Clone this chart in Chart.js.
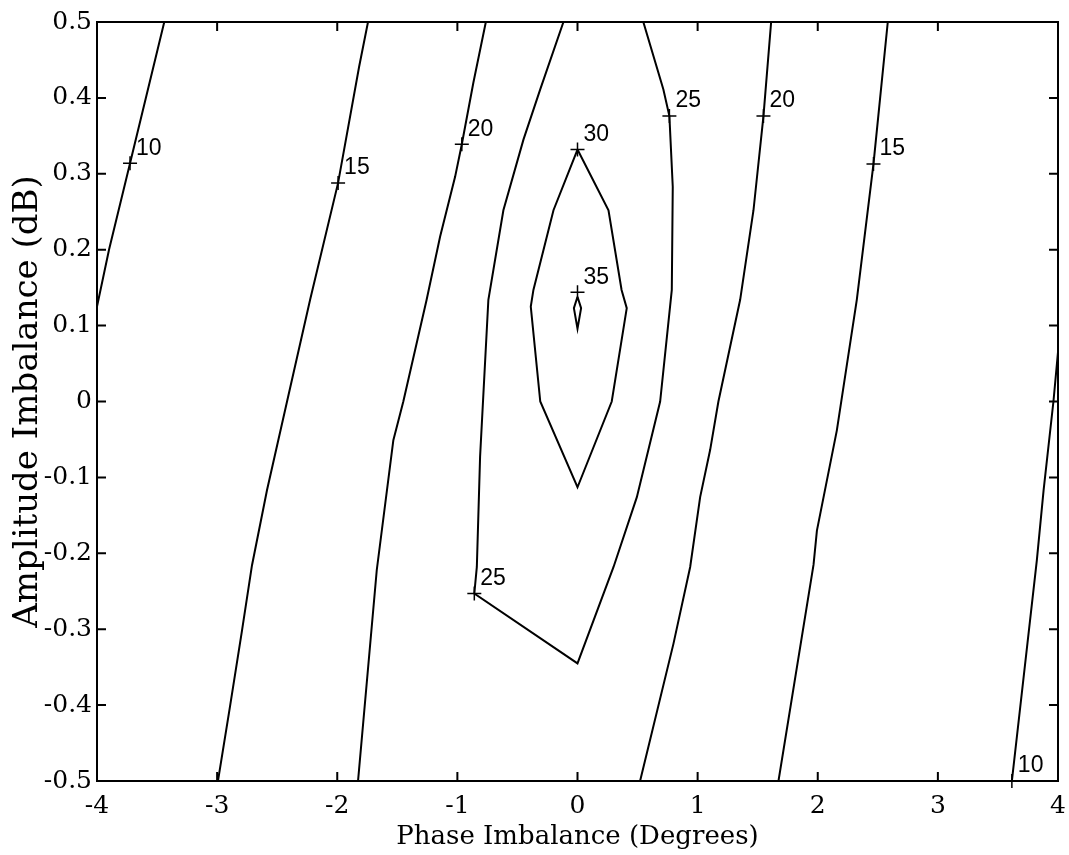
<!DOCTYPE html>
<html>
<head>
<meta charset="utf-8">
<script src="https://cdn.jsdelivr.net/npm/chart.js@4.4.0/dist/chart.umd.min.js"></script>
<style>
  html, body { margin: 0; padding: 0; background: #ffffff; }
  #wrap { width: 1069px; height: 855px; }
</style>
</head>
<body>
<div id="wrap"><canvas id="myChart" width="1069" height="855"></canvas></div>
<script>
// contour lines as [phase, amplitude] pairs
const c10left = [[-4.0, 0.125], [-3.90, 0.20], [-3.725, 0.314], [-3.44, 0.5]];
const c15left = [[-1.744, 0.5], [-1.818, 0.441], [-1.993, 0.288], [-2.226, 0.134], [-2.418, 0.0],
                 [-2.585, -0.117], [-2.71, -0.216], [-2.793, -0.302], [-2.893, -0.402], [-2.993, -0.5]];
const c20left = [[-0.763, 0.5], [-0.867, 0.42], [-0.963, 0.339], [-1.019, 0.296], [-1.144, 0.217],
                 [-1.256, 0.134], [-1.45, 0.0], [-1.533, -0.051], [-1.671, -0.222], [-1.827, -0.5]];
const c25 = [[-0.117, 0.5], [-0.311, 0.411], [-0.45, 0.345], [-0.617, 0.252], [-0.742, 0.134],
             [-0.811, -0.073], [-0.838, -0.218], [-0.859, -0.253], [0.0, -0.345], [0.30, -0.218],
             [0.494, -0.126], [0.688, 0.0], [0.785, 0.147], [0.793, 0.283], [0.765, 0.376],
             [0.715, 0.411], [0.548, 0.5]];
const c30 = [[0.0, 0.332], [0.258, 0.252], [0.367, 0.147], [0.41, 0.123], [0.285, 0.0], [0.0, -0.113],
             [-0.31, 0.0], [-0.389, 0.125], [-0.367, 0.147], [-0.2, 0.252], [0.0, 0.332]];
const c35 = [[0.0, 0.138], [0.03, 0.123], [0.0, 0.096], [-0.03, 0.123], [0.0, 0.138]];
const c20right = [[1.612, 0.5], [1.548, 0.376], [1.465, 0.252], [1.354, 0.134], [1.173, 0.0],
                  [1.104, -0.064], [1.021, -0.126], [0.938, -0.218], [0.799, -0.319], [0.521, -0.5]];
const c15right = [[2.583, 0.5], [2.464, 0.313], [2.325, 0.134], [2.159, -0.038], [1.993, -0.17],
                  [1.965, -0.215], [1.673, -0.5]];
const c10right = [[3.616, -0.5], [3.824, -0.209], [3.88, -0.117], [3.962, 0.0], [4.0, 0.065]];

// the "+" label marks
const markX = [-3.725, -1.993, -0.963, 0.0, 0.0, 0.765, 1.548, 2.464, -0.859, 3.616];
const markY = [0.314, 0.288, 0.339, 0.332, 0.144, 0.376, 0.376, 0.313, -0.253, -0.5];
const markLevel = ['10', '15', '20', '30', '35', '25', '20', '15', '25', '10'];

const xTicks = [-4, -3, -2, -1, 0, 1, 2, 3, 4];
const yTicks = [-0.5, -0.4, -0.3, -0.2, -0.1, 0, 0.1, 0.2, 0.3, 0.4, 0.5];
const yTickLabels = ['-0.5', '-0.4', '-0.3', '-0.2', '-0.1', '0', '0.1', '0.2', '0.3', '0.4', '0.5'];

const serif = '"DejaVu Serif", "Liberation Serif", serif';

function line(pts) {
    return {
        data: pts.map(p => ({ x: p[0], y: p[1] })),
        showLine: true,
        borderColor: '#000000',
        borderWidth: 2,
        pointRadius: 0,
        fill: false,
        tension: 0
    };
}

// box, inward ticks on all sides, contour level labels
const boxTicks = {
    id: 'boxTicks',
    afterDraw(chart) {
        const ctx = chart.ctx;
        const a = chart.chartArea;
        const xs = chart.scales.x;
        const ys = chart.scales.y;
        ctx.save();
        ctx.strokeStyle = '#000000';
        ctx.lineWidth = 2;
        ctx.beginPath();
        ctx.rect(a.left, a.top, a.right - a.left, a.bottom - a.top);
        xTicks.forEach(v => {
            const px = xs.getPixelForValue(v);
            ctx.moveTo(px, a.bottom); ctx.lineTo(px, a.bottom - 9);
            ctx.moveTo(px, a.top); ctx.lineTo(px, a.top + 9);
        });
        yTicks.forEach(v => {
            const py = ys.getPixelForValue(v);
            ctx.moveTo(a.left, py); ctx.lineTo(a.left + 9, py);
            ctx.moveTo(a.right, py); ctx.lineTo(a.right - 9, py);
        });
        ctx.stroke();

        ctx.fillStyle = '#000000';
        ctx.font = '23px "Liberation Sans", Arial, sans-serif';
        ctx.textAlign = 'left';
        ctx.textBaseline = 'middle';
        markLevel.forEach((lv, i) => {
            ctx.fillText(lv, xs.getPixelForValue(markX[i]) + 6, ys.getPixelForValue(markY[i]) - 15);
        });
        ctx.restore();
    }
};

const ctx = document.getElementById('myChart');
new Chart(ctx, {
    type: 'scatter',
    data: {
        datasets: [
            line(c10left), line(c15left), line(c20left), line(c25), line(c30), line(c35),
            line(c20right), line(c15right), line(c10right),
            {
                data: markX.map((x, i) => ({ x: x, y: markY[i] })),
                showLine: false,
                pointStyle: 'cross',
                pointRadius: 7,
                pointBorderWidth: 1.5,
                borderColor: '#000000',
                clip: false
            }
        ]
    },
    options: {
        responsive: false,
        animation: false,
        devicePixelRatio: 1,
        layout: { padding: { top: 22, right: 11, left: 0, bottom: 0 } },
        plugins: { legend: { display: false }, tooltip: { enabled: false } },
        scales: {
            x: {
                type: 'linear',
                min: -4,
                max: 4,
                afterBuildTicks: s => { s.ticks = xTicks.map(v => ({ value: v })); },
                afterFit: s => { s.height = 74; s.paddingLeft = 0; s.paddingRight = 0; },
                grid: { display: false, drawTicks: false },
                border: { display: false },
                ticks: {
                    padding: 10,
                    color: '#000000',
                    maxRotation: 0,
                    autoSkip: false,
                    font: { family: serif, size: 25 },
                    callback: v => String(v)
                },
                title: {
                    display: true,
                    text: 'Phase Imbalance (Degrees)',
                    color: '#000000',
                    font: { family: serif, size: 26 },
                    padding: { top: 0, bottom: 2 }
                }
            },
            y: {
                type: 'linear',
                min: -0.5,
                max: 0.5,
                afterBuildTicks: s => { s.ticks = yTicks.map(v => ({ value: v })); },
                afterFit: s => { s.width = 97; s.paddingTop = 0; s.paddingBottom = 0; },
                grid: { display: false, drawTicks: false },
                border: { display: false },
                ticks: {
                    padding: 5,
                    color: '#000000',
                    autoSkip: false,
                    font: { family: serif, size: 25 },
                    callback: v => yTickLabels[yTicks.findIndex(t => Math.abs(t - v) < 1e-9)]
                },
                title: {
                    display: true,
                    text: 'Amplitude Imbalance (dB)',
                    color: '#000000',
                    font: { family: serif, size: 34 },
                    padding: { top: 8, bottom: 0 }
                }
            }
        }
    },
    plugins: [boxTicks]
});
</script>
</body>
</html>
